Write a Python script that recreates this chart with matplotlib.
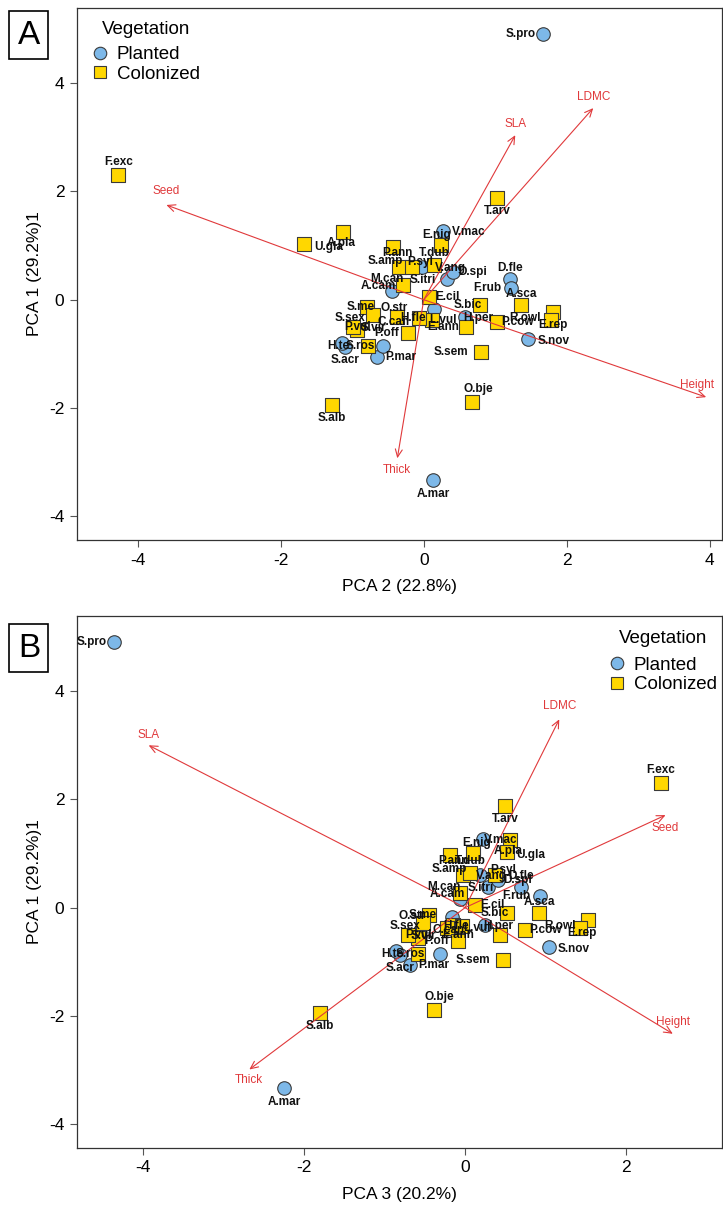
"""PCA biplots of plant traits: planted vs colonized species."""

import matplotlib

matplotlib.use("Agg")
import matplotlib.pyplot as plt
from matplotlib.lines import Line2D

plt.rcParams.update(
    {
        "font.family": ["Liberation Sans", "DejaVu Sans"],
        "figure.facecolor": "white",
        "axes.facecolor": "white",
        "axes.unicode_minus": False,
        "figure.dpi": 100,
    }
)

# species scores
species = [
    "S.pro", "F.exc", "A.mar", "S.alb", "O.bje", "S.sem", "S.nov", "T.arv",
    "A.pla", "U.gla", "E.nig", "V.mac", "P.ann", "S.amp", "P.syl", "T.dub",
    "S.itri", "V.ang", "D.spi", "D.fle", "F.rub", "M.can", "A.cam", "E.cil",
    "O.str", "A.sca", "S.bic", "R.owl", "E.rep", "P.cow", "H.per", "L.vul",
    "S.me", "C.can", "E.ann", "P.off", "P.vul", "S.sex", "S.vir", "S.ros",
    "S.acr", "P.mar", "P.lan", "H.fle", "H.te",
]
vegetation = [
    "P", "C", "P", "C", "C", "C", "P", "C",
    "C", "C", "P", "C", "C", "C", "C", "C",
    "P", "P", "P", "P", "P", "C", "P", "C",
    "P", "C", "C", "C", "C", "C", "P", "C",
    "C", "C", "C", "C", "C", "C", "C", "C",
    "P", "P", "P", "C", "P",
]
pca1 = [
    4.91, 2.30, -3.34, -1.95, -1.89, -0.97, -0.73, 1.88,
    1.25, 1.03, 1.27, 1.01, 0.97, 0.60, 0.60, 0.64,
    0.60, 0.38, 0.51, 0.38, 0.21, 0.27, 0.16, 0.05,
    -0.18, -0.10, -0.10, -0.23, -0.38, -0.42, -0.32, -0.51,
    -0.14, -0.32, -0.38, -0.62, -0.56, -0.51, -0.29, -0.86,
    -0.88, -1.06, -0.86, -0.34, -0.80,
]
pca2 = [
    1.67, -4.27, 0.13, -1.29, 0.68, 0.80, 1.46, 1.03,
    -1.13, -1.67, 0.27, 0.24, -0.43, -0.34, -0.16, 0.15,
    -0.02, 0.33, 0.41, 1.20, 1.22, -0.29, -0.45, 0.08,
    0.15, 1.36, 0.78, 1.81, 1.78, 1.03, 0.58, 0.59,
    -0.80, -0.37, 0.12, -0.22, -0.93, -0.99, -0.71, -0.78,
    -1.10, -0.65, -0.57, -0.06, -1.14,
]
pca3 = [
    -4.36, 2.43, -2.25, -1.80, -0.39, 0.47, 1.04, 0.50,
    0.56, 0.52, 0.22, 0.10, -0.19, -0.02, 0.37, 0.06,
    0.19, 0.29, 0.41, 0.70, 0.93, -0.06, -0.06, 0.12,
    -0.16, 0.92, 0.52, 1.53, 1.43, 0.75, 0.25, 0.43,
    -0.45, -0.15, -0.22, -0.09, -0.58, -0.71, -0.52, -0.58,
    -0.81, -0.68, -0.31, -0.04, -0.86,
]

# trait arrows as drawn in each panel
traits = ["SLA", "LDMC", "Seed", "Height", "Thick"]
arrow_a_x = [1.28, 2.37, -3.60, 3.95, -0.37]
arrow_a_y = [3.04, 3.54, 1.75, -1.80, -2.93]
arrow_b_x = [-3.93, 1.17, 2.49, 2.58, -2.68]
arrow_b_y = [3.00, 3.48, 1.71, -2.33, -2.99]

# label offsets in pixels (dx, dy up)
label_off = {
    "S.pro": (-22, 0), "F.exc": (0, 13), "A.mar": (0, -14), "S.alb": (0, -13),
    "O.bje": (6, 13), "S.sem": (-30, 0), "S.nov": (25, -2), "T.arv": (0, -13),
    "A.pla": (-2, -11), "U.gla": (24, -3), "E.nig": (-6, -4), "V.mac": (28, 13),
    "P.ann": (4, -6), "S.amp": (-14, 6), "P.syl": (8, 5), "T.dub": (0, 12),
    "S.itri": (0, -13), "V.ang": (3, 11), "D.spi": (20, 0), "D.fle": (0, 11),
    "F.rub": (-24, 0), "M.can": (-16, 6), "A.cam": (-13, 5), "E.cil": (18, 0),
    "O.str": (-40, 1), "A.sca": (0, 11), "S.bic": (-12, 0), "R.owl": (-28, -6),
    "E.rep": (2, -5), "P.cow": (20, 0), "H.per": (13, -1), "L.vul": (-23, 7),
    "S.me": (-6, 0), "C.can": (-4, -5), "E.ann": (11, -7), "P.off": (-21, 0),
    "P.vul": (0, 3), "S.sex": (-3, 9), "S.vir": (0, -13), "S.ros": (-8, 0),
    "S.acr": (0, -13), "P.mar": (23, 0), "P.lan": None, "H.fle": (-6, 0),
    "H.te": (-4, -3),
}
arrow_lab_a = [(0, 11), (0, 11), (0, 14), (-9, 12), (0, -12)]
arrow_lab_b = [(0, 10), (0, 13), (0, -13), (0, 12), (0, -11)]

STYLE = {
    "P": dict(marker="o", facecolor="#7db8e8", label="Planted"),
    "C": dict(marker="s", facecolor="#ffd700", label="Colonized"),
}
RED = "#e0393b"


def biplot(ax, xs, ys, lx, ly, xlim, xticks, xlabel, arrow_lab):
    for g in ["P", "C"]:
        idx = [i for i, v in enumerate(vegetation) if v == g]
        ax.scatter(
            [xs[i] for i in idx], [ys[i] for i in idx],
            marker=STYLE[g]["marker"], s=95, facecolor=STYLE[g]["facecolor"],
            edgecolor="#3a3a3a", linewidth=0.8, zorder=3,
        )
    for t, x, y, off in zip(traits, lx, ly, arrow_lab):
        ax.annotate(
            "", xy=(x, y), xytext=(0, 0),
            arrowprops=dict(arrowstyle="->,head_length=0.55,head_width=0.25",
                            color=RED, lw=0.8, shrinkA=0, shrinkB=0),
            zorder=4,
        )
        ax.annotate(t, (x, y), xytext=off, textcoords="offset pixels",
                    ha="center", va="center", color=RED, fontsize=8.5, zorder=5)
    for n, x, y in zip(species, xs, ys):
        off = label_off[n]
        if off is None:
            continue
        ax.annotate(n, (x, y), xytext=off, textcoords="offset pixels",
                    ha="center", va="center", fontsize=8.5, fontweight="bold",
                    color="#111111", zorder=6, clip_on=True)
    ax.set_xticks(xticks)
    ax.set_yticks([-4, -2, 0, 2, 4])
    ax.set_xlim(*xlim)
    ax.set_ylim(-4.44, 5.39)
    ax.tick_params(direction="out", length=5, width=0.8, color="#555555",
                   labelsize=12.5, pad=4)
    for sp in ax.spines.values():
        sp.set_color("#333333")
        sp.set_linewidth(0.9)
    ax.set_xlabel(xlabel, fontsize=12.5)
    ax.set_ylabel("PCA 1 (29.2%)1", fontsize=12.5)
    ax.xaxis.set_label_coords(0.5, -0.074)
    ax.yaxis.set_label_coords(-0.055, 0.5)


def legend(ax, title_xy, anchor):
    handles = [
        Line2D([], [], ls="none", marker=STYLE[g]["marker"], markersize=9,
               markerfacecolor=STYLE[g]["facecolor"], markeredgecolor="#3a3a3a",
               markeredgewidth=0.8, label=STYLE[g]["label"])
        for g in ["P", "C"]
    ]
    ax.text(*title_xy, "Vegetation", transform=ax.transAxes, fontsize=13.5,
            ha="left", va="center")
    ax.legend(handles=handles, loc="upper left", bbox_to_anchor=anchor,
              frameon=False, fontsize=13.5, handlelength=0.8,
              handletextpad=0.5, labelspacing=0.12, borderpad=0,
              borderaxespad=0)


fig = plt.figure(figsize=(7.23, 12.07))
ax_a = fig.add_axes([0.1065, 0.5526, 0.892, 0.4408])
ax_b = fig.add_axes([0.1065, 0.0489, 0.892, 0.4408])

biplot(ax_a, pca2, pca1, arrow_a_x, arrow_a_y, (-4.85, 4.17), [-4, -2, 0, 2, 4],
       "PCA 2 (22.8%)", arrow_lab_a)
biplot(ax_b, pca3, pca1, arrow_b_x, arrow_b_y, (-4.82, 3.19), [-4, -2, 0, 2],
       "PCA 3 (20.2%)", arrow_lab_b)
legend(ax_a, (0.038, 0.959), (0.024, 0.928))
legend(ax_b, (0.840, 0.958), (0.8256, 0.9235))

for letter, y in [("A", 0.971), ("B", 0.463)]:
    fig.text(0.040, y, letter, fontsize=24, ha="center", va="center",
             bbox=dict(boxstyle="square,pad=0.25", facecolor="white",
                       edgecolor="black", linewidth=1.2))

fig.savefig("out.png", dpi=100)
